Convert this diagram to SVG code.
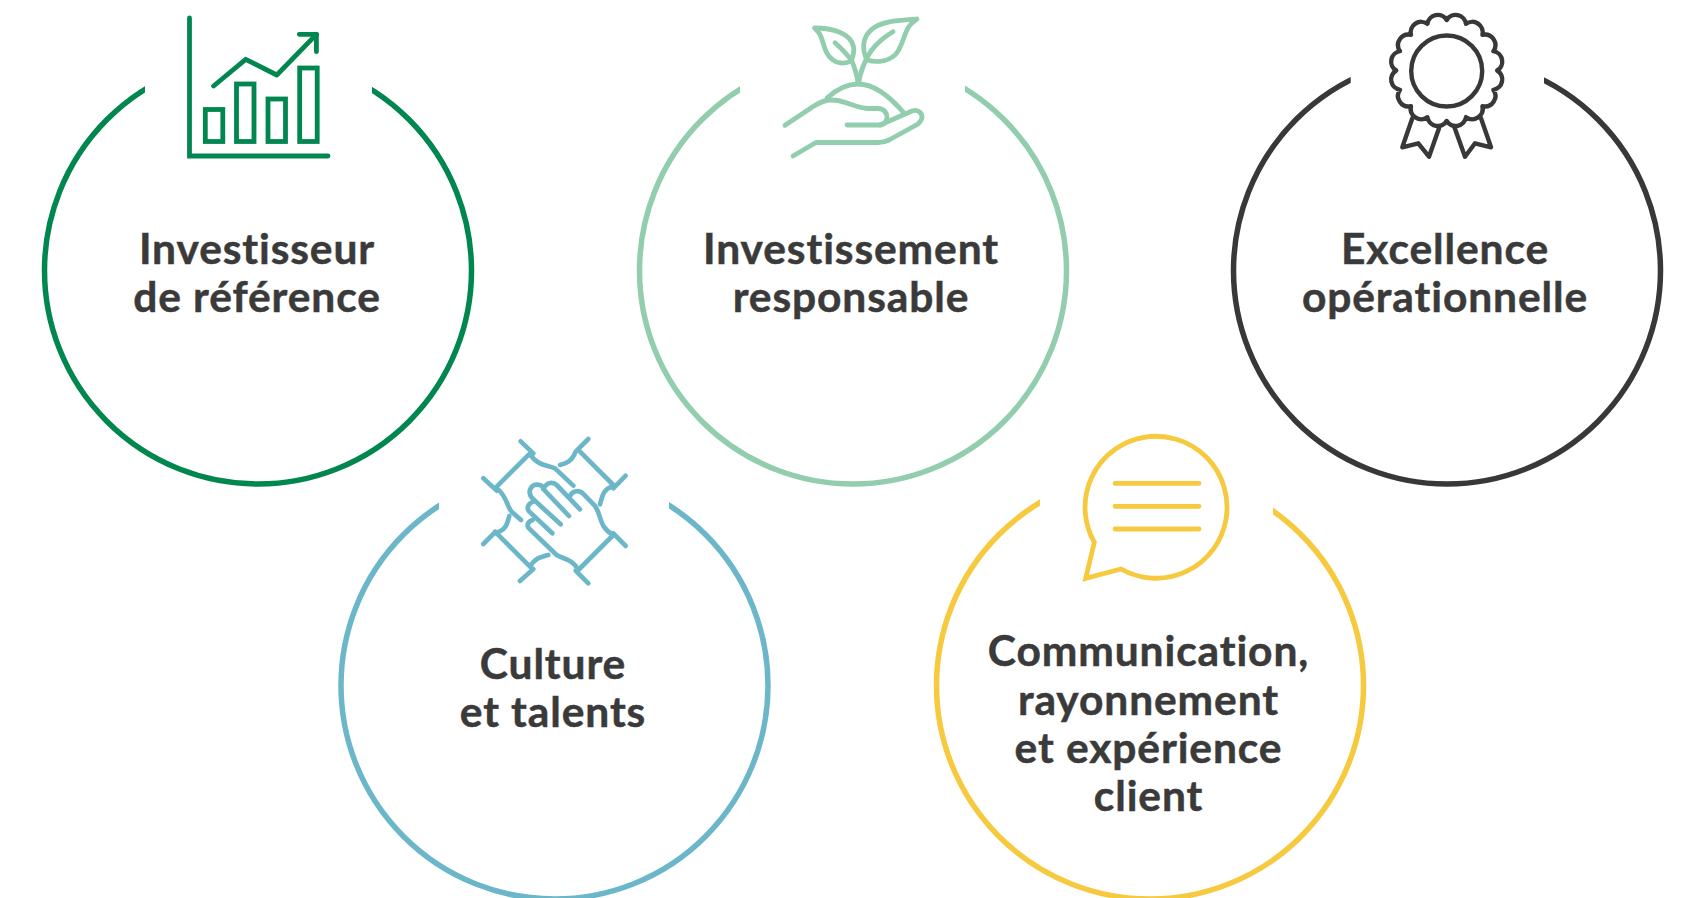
<svg xmlns="http://www.w3.org/2000/svg" width="1691" height="898" viewBox="0 0 1691 898">
<style>
.ring{fill:none;stroke-width:5.500}
.ic{fill:none;stroke-width:4.800;stroke-linecap:round;stroke-linejoin:round}
.t{font-family:"Lato","Liberation Sans",sans-serif;font-weight:700;font-size:42.500px;letter-spacing:.9px;font-variant-ligatures:none;fill:#3a3a3a;stroke:#3a3a3a;stroke-width:.5px;text-anchor:middle}
.g{stroke:#00864f}.m{stroke:#92cdae}.d{stroke:#383838}.b{stroke:#6cb6c9}.y{stroke:#f6c93e}
</style>
<defs>
<clipPath id="c1"><rect x="0" y="0" width="145" height="898"/><rect x="372" y="0" width="400" height="898"/><rect x="0" y="120" width="600" height="778"/></clipPath>
<clipPath id="c2"><rect x="500" y="0" width="240" height="898"/><rect x="965" y="0" width="400" height="898"/><rect x="500" y="120" width="800" height="778"/></clipPath>
<clipPath id="c3"><rect x="1100" y="0" width="250.700" height="898"/><rect x="1544" y="0" width="147" height="898"/><rect x="1100" y="120" width="591" height="778"/></clipPath>
<clipPath id="c4"><rect x="200" y="400" width="239" height="498"/><rect x="669" y="400" width="300" height="498"/><rect x="200" y="560" width="800" height="338"/></clipPath>
<clipPath id="c5"><rect x="800" y="400" width="240" height="498"/><rect x="1273" y="400" width="300" height="498"/><rect x="800" y="560" width="800" height="338"/></clipPath>
</defs>
<g id="node-investisseur">
<circle class="ring g" cx="258" cy="270.500" r="213.500" clip-path="url(#c1)"/>
<g class="ic g">
<path d="M189.500 18V156H328" stroke-linejoin="miter"/>
<g stroke-linejoin="miter"><rect x="205.300" y="109.500" width="17.500" height="32"/><rect x="236.500" y="84" width="17.500" height="57.500"/><rect x="268" y="99" width="17.500" height="42.500"/><rect x="299.700" y="68" width="17.500" height="73.500"/></g>
<path d="M213.600 86L245.700 59.300L276.800 75L316.400 34.300"/>
<path d="M299.300 34.300H316.400V51.700"/>
</g>
<text class="t" x="257" y="263.500">Investisseur</text>
<text class="t" x="257" y="311.500">de référence</text>
</g>
<g id="node-responsable">
<circle class="ring m" cx="853" cy="270.500" r="213.500" clip-path="url(#c2)"/>
<g class="ic m">
<path d="M814.500 28C832 28 851 33 853.600 47C854.500 53 852.500 58 851 61C846 64 838 64 833 60C823 53 824 40 819 33Z"/>
<path d="M835 42.700C842 49 848 55 851.800 61C855 68 857 76 858 83"/>
<path d="M917 19C900 20 880 21 871 30C862 38 862 50 867 60C874 62 886 63 895 55C903 48 904 30 911 24Z"/>
<path d="M893 31.700C884 37 876 44 871 51C866 58 860 72 858.600 83"/>
<path d="M827 98C836 90 847 84 858 84C875 84 892 99 904 113"/>
<path d="M785 125.300L814 106C820 102 825 100 832 100C845 100 855 108 868 108.500H878C884 108.500 887 113 887 117C887 121 884 125 880 125H847"/>
<path d="M880 125L912 111C918 109 922 113 922 117C922 120 920 122 918 124L889 140C885 142 882 142.500 878 142.500H816L793 156"/>
</g>
<text class="t" x="851" y="263.500">Investissement</text>
<text class="t" x="851" y="311.500">responsable</text>
</g>
<g id="node-excellence">
<circle class="ring d" cx="1447" cy="270.500" r="213.500" clip-path="url(#c3)"/>
<g class="ic d" style="stroke-width:4.400">
<circle cx="1446.700" cy="71" r="35.500"/>
<path d="M1446.700 20A10.500 10.500 0 0 1 1466.030 23.830A10.500 10.500 0 0 1 1482.410 34.790A10.500 10.500 0 0 1 1493.360 51.170A10.500 10.500 0 0 1 1497.200 70.500A10.500 10.500 0 0 1 1493.360 89.830A10.500 10.500 0 0 1 1482.410 106.210A10.500 10.500 0 0 1 1466.030 117.160A10.500 10.500 0 0 1 1446.700 121A10.500 10.500 0 0 1 1427.370 117.160A10.500 10.500 0 0 1 1410.990 106.210A10.500 10.500 0 0 1 1400.040 89.830A10.500 10.500 0 0 1 1396.200 70.500A10.500 10.500 0 0 1 1400.040 51.170A10.500 10.500 0 0 1 1410.990 34.790A10.500 10.500 0 0 1 1427.370 23.830A10.500 10.500 0 0 1 1446.700 20Z"/>
<path d="M1412.300 118.300L1402.300 147.300L1418.300 143.300L1429 156.700L1439 128.300"/>
<path d="M1454 126L1465 156.700L1475 143.300L1491 147.300L1481 118.300"/>
</g>
<text class="t" x="1445" y="263.500">Excellence</text>
<text class="t" x="1445" y="311.500">opérationnelle</text>
</g>
<g id="node-culture">
<circle class="ring b" cx="554.500" cy="685.500" r="213.500" clip-path="url(#c4)"/>
<g class="ic b" transform="translate(400 420) scale(.3333)" style="stroke-width:14">
<path d="M362 64L400 100M250 175L290 212M390 100L285 205M390 103C410 135 440 135 465 145L520 197M290 205C320 225 320 260 335 275L363 300"/>
<path d="M565 57L527 95M540 95L640 195M677 167L640 205M527 95C515 125 500 130 480 135M635 200C610 210 608 225 600 253"/>
<path d="M640 345L535 450M640 340L677 378M527 452L565 490"/>
<path d="M250 372L287 335M285 335L390 440M360 483L400 447M285 340C320 330 322 310 328 288M390 440C405 415 420 412 445 405"/>
<path d="M432 207C425 190 400 190 392 205C385 218 390 228 400 238L482 313"/>
<path d="M400 245C385 250 378 265 388 275L457 340"/>
<path d="M398 300C382 305 378 318 390 328L470 405C490 418 515 415 535 450"/>
<path d="M430 207C440 185 460 185 470 195L540 268"/>
<path d="M430 207L507 288"/>
<path d="M510 228C518 210 540 210 550 222L585 258C605 285 595 320 640 345"/>
</g>
<text class="t" x="553" y="678.500">Culture</text>
<text class="t" x="553" y="726.500">et talents</text>
</g>
<g id="node-communication">
<circle class="ring y" cx="1150" cy="685.500" r="213.500" clip-path="url(#c5)"/>
<g class="ic y">
<path d="M1121 569A71 71 0 1 0 1094.300 542.300L1085.700 578.300Z" stroke-linejoin="miter"/>
<path d="M1115 483.300H1199M1115 506.300H1199M1115 529H1199"/>
</g>
<text class="t" x="1148.500" y="666">Communication,</text>
<text class="t" x="1148.500" y="714.500">rayonnement</text>
<text class="t" x="1148.500" y="762.500">et expérience</text>
<text class="t" x="1148.500" y="810.500">client</text>
</g>
<g id="connectors"/>
</svg>
